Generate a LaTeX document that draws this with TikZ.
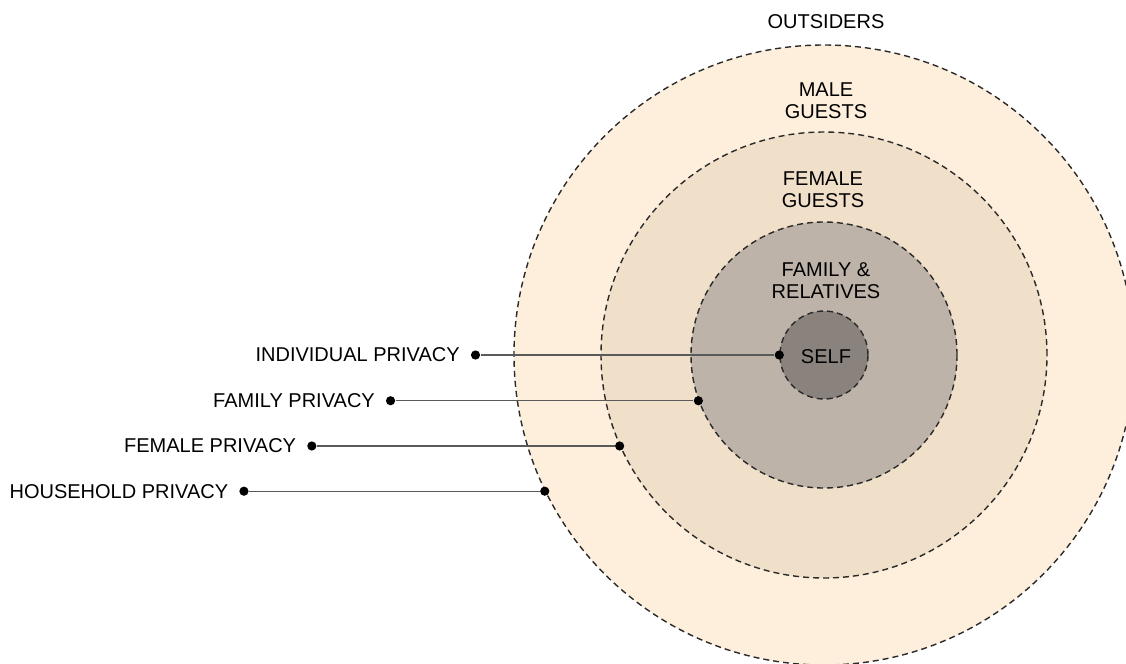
\documentclass[tikz,border=0pt]{standalone}
\usepackage{fontspec}
\setmainfont{Liberation Sans}
\usetikzlibrary{positioning}
\definecolor{malecol}{HTML}{FDEFDB}
\definecolor{femalecol}{HTML}{F0DFC9}
\definecolor{familycol}{HTML}{BEB3A8}
\definecolor{selfcol}{HTML}{8A827C}
\definecolor{zoneline}{HTML}{2A2A2A}
\definecolor{leadline}{HTML}{5A5A5A}
\begin{document}
\begin{tikzpicture}[x=0.5pt,y=-0.5pt,
    zone/.style={circle, draw=zoneline, dash pattern=on 3pt off 2pt, line width=0.7pt, inner sep=0},
    zonetext/.style={align=center, font=\fontsize{10}{11}\selectfont, inner sep=0},
    pin/.style={circle, fill=black, inner sep=0, minimum size=4.6pt},
    privtext/.style={font=\fontsize{10}{11}\selectfont, inner sep=0},
    lead/.style={draw=leadline, line width=0.6pt}]
  \clip (0,0) rectangle (1126,664);
  % privacy zones
  \coordinate (c) at (824,355);
  \node[zone, fill=malecol, minimum size=310pt] (household) at (c) {};
  \node[zone, fill=femalecol, minimum size=223pt] (female) at (c) {};
  \node[zone, fill=familycol, minimum size=133pt] (family) at (c) {};
  \node[zone, fill=selfcol, minimum size=44pt] (self) at (c) {};
  % who is allowed where
  \node[zonetext] (outsiders) at (826,22) {OUTSIDERS};
  \node[zonetext] (maleguests) at (826,101) {MALE\\GUESTS};
  \node[zonetext] (femaleguests) at (823,190) {FEMALE\\GUESTS};
  \node[zonetext] (relatives) at (826,281) {FAMILY \&\\RELATIVES};
  \node[zonetext] (selftext) at (826,357) {SELF};
  % leaders
  \node[pin] (iend) at (self.west) {};
  \node[pin] (famend) at (family.200.7) {};
  \node[pin] (femend) at (female.204.4) {};
  \node[pin] (hhend) at (household.206.2) {};
  \node[pin, left=146.9pt of iend] (ipin) {};
  \node[pin, left=148.9pt of famend] (fampin) {};
  \node[pin, left=148.9pt of femend] (fempin) {};
  \node[pin, left=145.4pt of hhend] (hhpin) {};
  \draw[lead] (ipin) -- (iend);
  \draw[lead] (fampin) -- (famend);
  \draw[lead] (fempin) -- (femend);
  \draw[lead] (hhpin) -- (hhend);
  \node[privtext, left=5.2pt of ipin] (indiv) {INDIVIDUAL PRIVACY};
  \node[privtext, left=5.2pt of fampin] (fampriv) {FAMILY PRIVACY};
  \node[privtext, left=5.2pt of fempin] (fempriv) {FEMALE PRIVACY};
  \node[privtext, left=5.2pt of hhpin] (hhpriv) {HOUSEHOLD PRIVACY};
\end{tikzpicture}
\end{document}
